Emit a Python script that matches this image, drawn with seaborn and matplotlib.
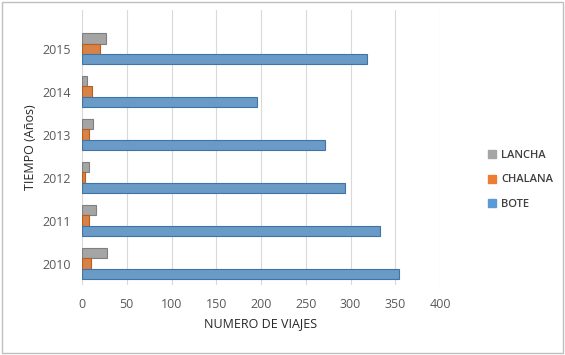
import matplotlib
matplotlib.use("Agg")
import matplotlib.pyplot as plt
import pandas as pd
import seaborn as sns
from matplotlib.patches import Rectangle

# data (2010 .. 2015)
years = ["2010", "2011", "2012", "2013", "2014", "2015"]
bote = [354, 333, 294, 272, 196, 318]
chalana = [10, 8, 3, 8, 11, 20]
lancha = [28, 16, 8, 12, 6, 27]
x_ticks = [0, 50, 100, 150, 200, 250, 300, 350, 400]

df = pd.DataFrame({"anio": years * 3,
                   "tipo": ["BOTE"] * 6 + ["CHALANA"] * 6 + ["LANCHA"] * 6,
                   "viajes": bote + chalana + lancha})

sns.set_style("white")
plt.rcParams["font.family"] = ["Open Sans", "DejaVu Sans"]

palette = {"LANCHA": "#A5A5A5", "CHALANA": "#ED7D31", "BOTE": "#5B9BD5"}
edges = {"LANCHA": "#7F7F7F", "CHALANA": "#B85E1F", "BOTE": "#3F74A8"}

fig = plt.figure(figsize=(5.65, 3.55), dpi=100)
fig.patches.append(Rectangle((0.004, 0.006), 0.992, 0.988, transform=fig.transFigure,
                             fill=False, edgecolor="#BFBFBF", linewidth=1))
ax = fig.add_axes([82 / 565, 1 - 285 / 355, (440 - 82) / 565, (285 - 10) / 355])

sns.barplot(data=df, y="anio", x="viajes", hue="tipo", orient="h",
            order=years[::-1], hue_order=["LANCHA", "CHALANA", "BOTE"],
            palette=palette, width=0.72, ax=ax, legend=False)

for cont, name in zip(ax.containers, ["LANCHA", "CHALANA", "BOTE"]):
    for bar in cont:
        bar.set_edgecolor(edges[name])
        bar.set_linewidth(0.8)

ax.set_xlim(0, 400)
ax.set_ylim(5.5, -0.9)
ax.set_xticks(x_ticks)
ax.xaxis.grid(True, color="#D9D9D9", linewidth=0.8)
ax.set_axisbelow(True)
for s in ax.spines.values():
    s.set_visible(False)
ax.tick_params(axis="both", length=0, labelsize=9, labelcolor="#595959")
ax.tick_params(axis="x", pad=9)
ax.tick_params(axis="y", pad=8)
ax.set_xlabel("NUMERO DE VIAJES", fontsize=9, color="#262626", labelpad=5)
ax.set_ylabel("TIEMPO (Años)", fontsize=9, color="#262626", labelpad=4)

handles = [Rectangle((0, 0), 1, 1, color=palette[n]) for n in ["LANCHA", "CHALANA", "BOTE"]]
fig.legend(handles, ["LANCHA", "CHALANA", "BOTE"], loc="center left",
           bbox_to_anchor=(478 / 565, 1 - 180 / 355), frameon=False,
           prop={"size": 8, "weight": "semibold"}, labelcolor="#404040",
           handlelength=0.7, handleheight=0.7, handletextpad=0.5, labelspacing=1.2)

fig.savefig("out.png", dpi=100)
